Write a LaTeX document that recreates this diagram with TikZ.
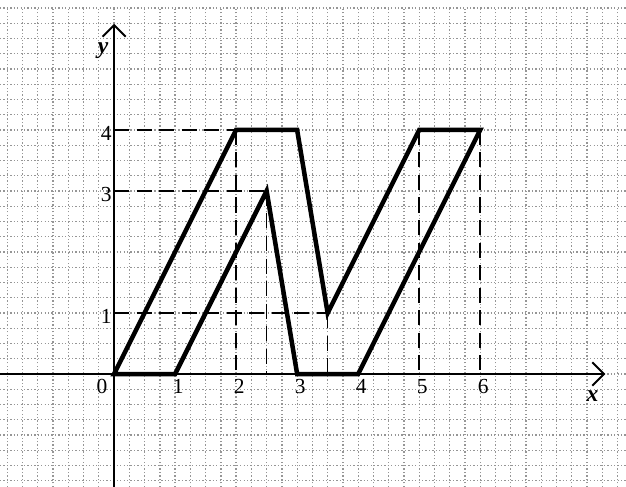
\documentclass[tikz,border=0pt]{standalone}
\usepackage{fontspec}
\setmainfont{Liberation Serif}
\usetikzlibrary{arrows.meta}
\definecolor{GridG}{RGB}{150,150,150}

\begin{document}
\begin{tikzpicture}[x=1cm,y=1cm,font=\fontsize{10}{11}\selectfont]
        \useasboundingbox (-1.87,-1.85) rectangle (8.39,6.13);
        \draw[GridG,densely dotted,line width=0.6pt,step=0.25] (-1.87,-1.85) grid (8.39,6.0);
        % axes
        \coordinate (O) at (0,0);
        \coordinate (xend) at (8.05,0);
        \coordinate (yend) at (0,5.74);
        \draw[line width=0.9pt,-{Straight Barb[length=1.9mm,width=3.8mm]}] (-1.87,0)--(xend);
        \draw[line width=0.9pt,-{Straight Barb[length=1.9mm,width=3.8mm]}] (0,-1.85)--(yend);
        \node[font=\fontsize{11}{12}\selectfont\bfseries\itshape] (xlab) at (7.84,-0.36) {x};
        \node[font=\fontsize{11}{12}\selectfont\bfseries\itshape] (ylab) at (-0.18,5.30) {y};
        % vertices
        \foreach \n/\x/\y in {A/0/0,B/1/0,C/2.5/3,D/3/0,E/4/0,F/6/4,G/5/4,H/3.5/1,I/3/4,J/2/4}{
          \coordinate (\n) at (\x,\y);}
        % dashed guides
        \foreach \n in {C,H,G,F,J}{
          \draw[line width=0.7pt,dash pattern=on 7pt off 3.5pt] (\n)--(\n|-O);}
        \foreach \n in {J,C,H}{
          \draw[line width=0.7pt,dash pattern=on 7pt off 3.5pt] (O|-\n)--(\n);}
        % tick labels
        \node (t0) at (-0.2,-0.21) {0};
        \foreach \x in {1,...,6}{
          \node (t\x) at (\x+0.05,-0.21) {\x};}
        \foreach \y in {1,3,4}{
          \node[anchor=east,inner sep=1pt] (s\y) at (0,\y-0.05) {\y};}
        % the figure
        \draw[line width=2.1pt] (A)--(B)--(C)--(D)--(E)--(F)--(G)--(H)--(I)--(J)--cycle;
      \end{tikzpicture}
\end{document}
